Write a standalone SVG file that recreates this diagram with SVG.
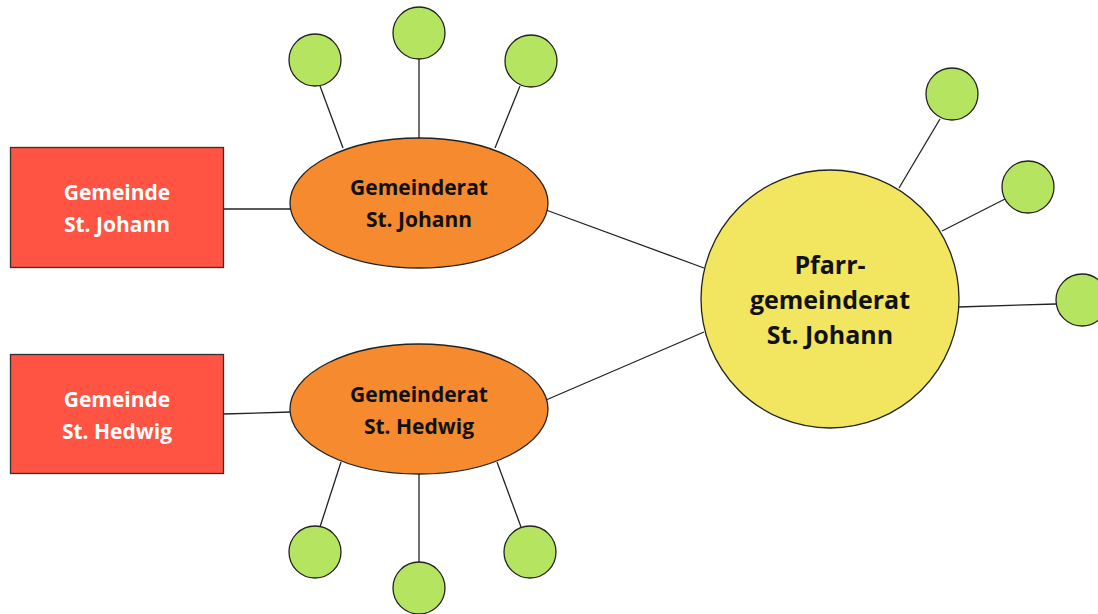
<svg xmlns="http://www.w3.org/2000/svg" width="1098" height="614" viewBox="0 0 1098 614">
<style>
.conn line{stroke:#222;stroke-width:1.3}
.leaf{fill:#B5E461;stroke:#222;stroke-width:1.3}
.rect{fill:#FF5343;stroke:#333;stroke-width:1.3}
.ell{fill:#F58A2E;stroke:#222;stroke-width:1.3}
.big{fill:#F2E55F;stroke:#222;stroke-width:1.3}
text{font-family:"Open Sans","Liberation Sans",sans-serif;font-weight:700;text-anchor:middle}
.w{fill:#fff;font-size:21px}
.k{fill:#111;font-size:21px}
.kb{fill:#111;font-size:25px}
</style>
<rect width="1098" height="614" fill="#fff"/>
<g class="conn" id="connectors">
<line x1="223" y1="209" x2="291" y2="209"/>
<line x1="223" y1="414" x2="291" y2="412"/>
<line x1="546" y1="210" x2="704" y2="268"/>
<line x1="546" y1="400" x2="704" y2="332"/>
<line x1="320" y1="86" x2="343" y2="148"/>
<line x1="419" y1="59" x2="419" y2="138"/>
<line x1="520" y1="86" x2="495" y2="148"/>
<line x1="341" y1="462" x2="320" y2="527"/>
<line x1="419" y1="474" x2="419" y2="562"/>
<line x1="497" y1="462" x2="521" y2="527"/>
<line x1="940" y1="119" x2="899" y2="188"/>
<line x1="1005" y1="199" x2="942" y2="231"/>
<line x1="958" y1="307" x2="1056" y2="304"/>
</g>
<g id="gemeinde-johann"><rect class="rect" x="10.5" y="147.5" width="213" height="120"/><text class="w" x="117" y="200">Gemeinde</text><text class="w" x="117" y="232">St. Johann</text></g>
<g id="gemeinde-hedwig"><rect class="rect" x="10.5" y="354.5" width="213" height="119"/><text class="w" x="117" y="407">Gemeinde</text><text class="w" x="117" y="439">St. Hedwig</text></g>
<g id="gr-johann"><ellipse class="ell" cx="419" cy="203" rx="129" ry="65"/><text class="k" x="419" y="195">Gemeinderat</text><text class="k" x="419" y="227">St. Johann</text></g>
<g id="gr-hedwig"><ellipse class="ell" cx="419" cy="409" rx="129" ry="65"/><text class="k" x="419" y="402">Gemeinderat</text><text class="k" x="419" y="434">St. Hedwig</text></g>
<g id="pgr"><circle class="big" cx="830" cy="299" r="129"/><text class="kb" x="830" y="274">Pfarr-</text><text class="kb" x="830" y="309">gemeinderat</text><text class="kb" x="830" y="344">St. Johann</text></g>
<g id="leaf-t1"><circle class="leaf" cx="315" cy="60" r="26"/></g>
<g id="leaf-t2"><circle class="leaf" cx="419" cy="33" r="26"/></g>
<g id="leaf-t3"><circle class="leaf" cx="531" cy="61" r="26"/></g>
<g id="leaf-b1"><circle class="leaf" cx="315" cy="552" r="26"/></g>
<g id="leaf-b2"><circle class="leaf" cx="419" cy="588" r="26"/></g>
<g id="leaf-b3"><circle class="leaf" cx="530" cy="552" r="26"/></g>
<g id="leaf-r1"><circle class="leaf" cx="952" cy="94" r="26"/></g>
<g id="leaf-r2"><circle class="leaf" cx="1028" cy="187" r="26"/></g>
<g id="leaf-r3"><circle class="leaf" cx="1082" cy="300" r="26"/></g>
</svg>
